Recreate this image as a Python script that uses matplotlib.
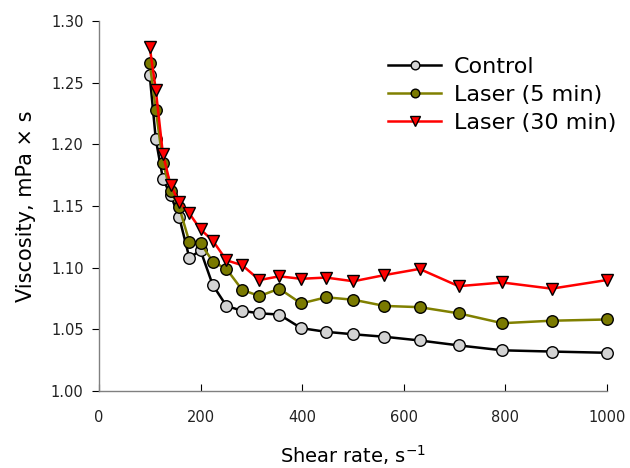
import matplotlib
matplotlib.use("Agg")
import matplotlib.pyplot as plt

shear_rate = [100, 112, 126, 141, 158, 178, 200, 224, 251, 282, 316, 355, 398, 447, 501, 562, 631, 708, 794, 891, 1000]
control = [1.256, 1.204, 1.172, 1.159, 1.141, 1.108, 1.114, 1.086, 1.069, 1.065, 1.063, 1.062, 1.051, 1.048, 1.046, 1.044, 1.041, 1.037, 1.033, 1.032, 1.031]
laser_5 = [1.266, 1.228, 1.185, 1.162, 1.149, 1.121, 1.120, 1.105, 1.099, 1.082, 1.077, 1.083, 1.071, 1.076, 1.074, 1.069, 1.068, 1.063, 1.055, 1.057, 1.058]
laser_30 = [1.279, 1.244, 1.192, 1.167, 1.153, 1.144, 1.131, 1.122, 1.106, 1.102, 1.090, 1.093, 1.091, 1.092, 1.089, 1.094, 1.099, 1.085, 1.088, 1.083, 1.090]
labels = ["Control", "Laser (5 min)", "Laser (30 min)"]

plt.rcParams['font.family'] = ['DejaVu Sans']
fig = plt.figure(figsize=(6.3, 4.68), dpi=100)
ax = fig.add_axes([0.157, 0.1645, 0.8065, 0.7905])

ax.plot(shear_rate, control, color='black', lw=1.8, marker='o', ms=8.3,
        mfc='#d3d3d3', mec='black', mew=1.0, label=labels[0], zorder=3)
ax.plot(shear_rate, laser_5, color='#808000', lw=1.8, marker='o', ms=8.3,
        mfc='#7a7a00', mec='black', mew=1.0, label=labels[1], zorder=4)
ax.plot(shear_rate, laser_30, color='#ff0000', lw=1.8, marker='v', ms=8.8,
        mfc='#ff0000', mec='black', mew=1.0, label=labels[2], zorder=5)

ax.set_xlim(0, 1000)
ax.set_ylim(1.0, 1.3)
ax.set_xticks([0, 200, 400, 600, 800, 1000])
ax.set_yticks([1.00, 1.05, 1.10, 1.15, 1.20, 1.25, 1.30])
ax.set_yticklabels([f"{v:.2f}" for v in [1.00, 1.05, 1.10, 1.15, 1.20, 1.25, 1.30]])

for s in ['top', 'right']:
    ax.spines[s].set_visible(False)
for s in ['left', 'bottom']:
    ax.spines[s].set_color('#808080')
    ax.spines[s].set_linewidth(1.0)
ax.tick_params(axis='x', direction='in', length=5, color='black', labelsize=10.5, pad=14, labelcolor='#222222')
ax.tick_params(axis='y', direction='out', length=5, color='black', labelsize=10.5, pad=6, labelcolor='#222222')
for ln in ax.lines:
    ln.set_clip_on(False)

ax.set_xlabel("Shear rate, s$^{-1}$", fontsize=14, labelpad=13)
ax.set_ylabel("Viscosity, mPa × s", fontsize=15, labelpad=11)

leg = fig.legend(loc='upper left', bbox_to_anchor=(388 / 630, 1 - 57 / 468), frameon=False,
                 fontsize=16, handlelength=2.4, handletextpad=0.55, labelspacing=0.36,
                 borderpad=0, borderaxespad=0, markerscale=0.75)

fig.savefig("out.png", dpi=100)
